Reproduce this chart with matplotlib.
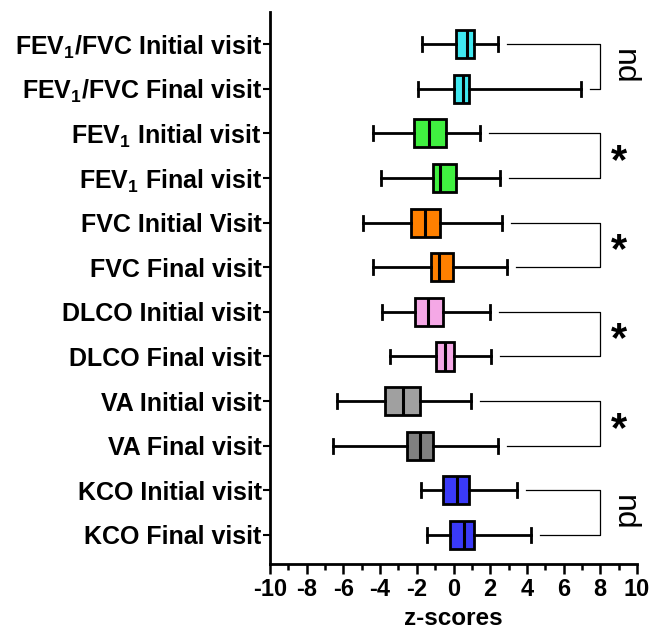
import matplotlib
matplotlib.use("Agg")
import matplotlib.pyplot as plt
from matplotlib.ticker import MultipleLocator

plt.rcParams['font.family'] = ['Liberation Sans', 'DejaVu Sans']
plt.rcParams['mathtext.fontset'] = 'custom'
plt.rcParams['mathtext.rm'] = 'Liberation Sans:bold'
plt.rcParams['mathtext.bf'] = 'Liberation Sans:bold'
plt.rcParams['axes.unicode_minus'] = False

labels = [r"FEV$_\mathbf{1}$/FVC Initial visit", r"FEV$_\mathbf{1}$/FVC Final visit",
          r"FEV$_\mathbf{1}$ Initial visit ", r"FEV$_\mathbf{1}$ Final visit",
          "FVC Initial Visit", "FVC Final visit",
          "DLCO Initial visit", "DLCO Final visit",
          "VA Initial visit", "VA Final visit",
          "KCO Initial visit", "KCO Final visit"]
whislo = [-1.73, -1.95, -4.37, -3.97, -4.95, -4.40, -3.88, -3.46, -6.37, -6.58, -1.79, -1.46]
q1     = [0.14, 0.03, -2.15, -1.10, -2.33, -1.24, -2.12, -0.95, -3.72, -2.55, -0.59, -0.19]
med    = [0.72, 0.50, -1.32, -0.74, -1.54, -0.77, -1.39, -0.46, -2.74, -1.83, 0.21, 0.57]
q3     = [1.12, 0.86, -0.41, 0.14, -0.74, -0.01, -0.59, 0.03, -1.83, -1.10, 0.84, 1.12]
whishi = [2.44, 6.93, 1.44, 2.53, 2.63, 2.93, 1.99, 2.03, 0.97, 2.44, 3.44, 4.21]
colors = ['#40E8F0', '#40E8F0', '#40F040', '#40F040', '#FF8000', '#FF8000',
          '#F5A8E6', '#F5A8E6', '#A0A0A0', '#808080', '#3A3AF8', '#3A3AF8']
pair_marks = ['nd', '*', '*', '*', '*', 'nd']

fig = plt.figure(figsize=(6.53, 6.32), dpi=100)
ax = fig.add_axes([270/653, 1-564/632, 367/653, (564-12)/632])

stats = []
for i in range(len(labels)):
    stats.append(dict(whislo=whislo[i], q1=q1[i], med=med[i], q3=q3[i], whishi=whishi[i], fliers=[]))
pos = list(range(len(labels)))
bp = ax.bxp(stats, positions=pos, vert=False, widths=0.63, capwidths=0.31,
            patch_artist=True, showfliers=False,
            boxprops=dict(linewidth=2.0, edgecolor='black'),
            whiskerprops=dict(linewidth=2.0, color='black'),
            capprops=dict(linewidth=2.0, color='black'),
            medianprops=dict(linewidth=2.2, color='black'))
for patch, c in zip(bp['boxes'], colors):
    patch.set_facecolor(c)

# brackets
for k, mark in enumerate(pair_marks):
    a, b = 2*k, 2*k+1
    xa = whishi[a] + 0.5
    xb = whishi[b] + 0.5
    ax.plot([xa, 8, 8, xb], [a, a, b, b], color='black', linewidth=0.9, clip_on=False)
    ym = (a + b) / 2
    if mark == 'nd':
        ax.text(9.3, ym, 'nd', rotation=-90, ha='center', va='center', fontsize=23,
                clip_on=False)
    else:
        ax.text(9.0, ym + 0.14, '*', ha='center', va='center', fontsize=30,
                fontweight='bold', clip_on=False)

ax.set_xlim(-10, 10)
ax.set_ylim(11.65, -0.72)
ax.set_yticks(pos)
ax.set_yticklabels(labels, fontsize=18, fontweight='bold')
ax.xaxis.set_minor_locator(MultipleLocator(1))
ax.set_xticks(range(-10, 11, 2))
ax.set_xticklabels([str(v) for v in range(-10, 11, 2)], fontsize=17, fontweight='bold')
ax.tick_params(axis='x', which='major', width=1.8, length=7, pad=3)
ax.tick_params(axis='x', which='minor', width=1.8, length=4)
ax.tick_params(axis='y', width=1.5, length=5, pad=1)
ax.set_xlabel('z-scores', fontsize=17.5, fontweight='bold', va='baseline')
ax.xaxis.set_label_coords(0.5, (564 - 625) / 552)
ax.spines['top'].set_visible(False)
ax.spines['right'].set_visible(False)
ax.spines['left'].set_linewidth(2.0)
ax.spines['bottom'].set_linewidth(2.0)

fig.savefig('out.png', dpi=100)
